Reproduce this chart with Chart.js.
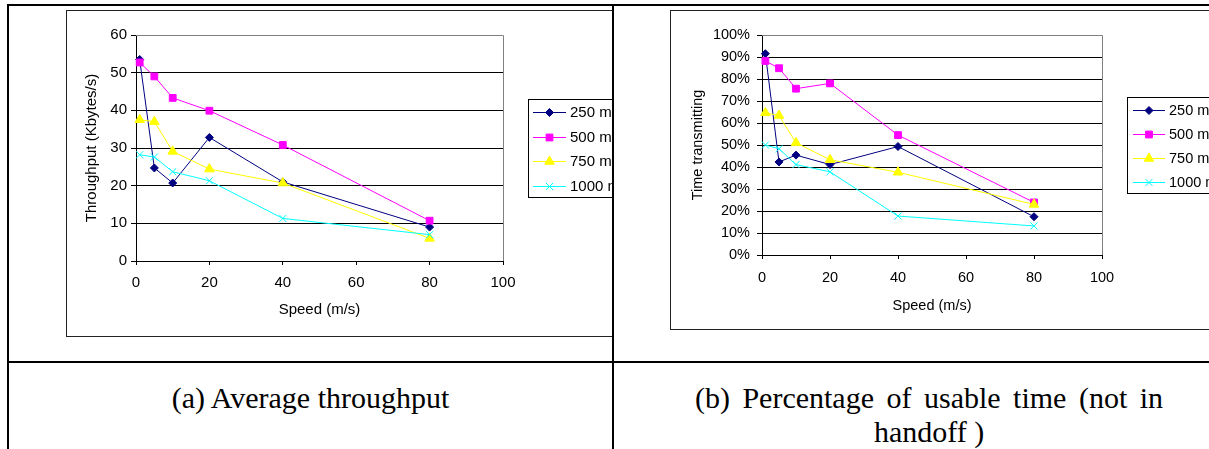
<!DOCTYPE html>
<html><head><meta charset="utf-8">
<script src="https://cdn.jsdelivr.net/npm/chart.js@4.4.1/dist/chart.umd.min.js"></script>
<style>
html,body{margin:0;padding:0;background:#fff;width:1209px;height:449px;overflow:hidden;position:relative;}
.ln{position:absolute;background:#000;}
.cell{position:absolute;overflow:hidden;}
.frame{position:absolute;border:1px solid #222;box-sizing:border-box;background:#fff;}
.frame canvas{position:absolute;left:0;top:0;}
.cap{position:absolute;font-family:"Liberation Serif","Times New Roman",serif;font-size:30px;line-height:34px;text-align:center;color:#000;white-space:nowrap;}
</style></head><body>
<div class="cell" style="left:9px;top:6px;width:603px;height:355px;">
  <div class="frame" style="left:57px;top:4px;width:620px;height:327px;"><canvas id="ca" width="618" height="325"></canvas></div>
</div>
<div class="cell" style="left:614px;top:6px;width:595px;height:355px;">
  <div class="frame" style="left:56px;top:4px;width:600px;height:320px;"><canvas id="cb" width="598" height="318"></canvas></div>
</div>
<div class="ln" style="left:7px;top:4px;width:1202px;height:2px;"></div>
<div class="ln" style="left:7px;top:4px;width:2px;height:445px;"></div>
<div class="ln" style="left:612px;top:4px;width:2px;height:445px;"></div>
<div class="ln" style="left:7px;top:361px;width:1202px;height:2px;"></div>
<div class="cap" style="left:9px;top:381px;width:603px;">(a) Average throughput</div>
<div class="cap" style="left:614px;top:381px;width:630px;"><span style="word-spacing:5px;">(b) Percentage of usable time (not in</span><br>handoff )</div>
<script>
// ---- data ----
const speeds = [1, 5, 10, 20, 40, 80];
const seriesNames = ['250 m', '500 m', '750 m', '1000 m'];
const xTickValues = [0, 20, 40, 60, 80, 100];
// (a) Average throughput (Kbytes/s)
const thr250 = [53.5, 24.7, 20.7, 32.8, 21.0, 9.0];
const thr500 = [52.7, 49.0, 43.3, 39.9, 30.8, 10.7];
const thr750 = [37.5, 37.0, 29.1, 24.4, 20.7, 6.0];
const thr1000 = [28.2, 27.6, 23.7, 21.3, 11.3, 7.0];
const thrTicks = [0, 10, 20, 30, 40, 50, 60];
// (b) Percentage of usable time (%)
const pct250 = [91.5, 42.3, 45.4, 41.1, 49.3, 17.4];
const pct500 = [88.2, 84.9, 75.6, 78.0, 54.5, 23.9];
const pct750 = [64.6, 63.4, 51.0, 43.3, 37.6, 23.0];
const pct1000 = [50.0, 48.3, 41.1, 37.8, 17.7, 13.2];
const pctTicks = [0, 10, 20, 30, 40, 50, 60, 70, 80, 90, 100];

// ---- styles ----
const styles = [
  {color: '#000080', pointStyle: 'rectRot', radius: 4},
  {color: '#FF00FF', pointStyle: 'rect', radius: 4.8},
  {color: '#FFFF00', pointStyle: 'triangle', radius: 5.5},
  {color: '#00FFFF', pointStyle: 'crossRot', radius: 5}
];
const FAMILY = '"Liberation Sans", Arial, sans-serif';
Chart.defaults.font.family = FAMILY;
Chart.defaults.color = '#000';

function drawMarker(ctx, style, r, x, y) {
  ctx.beginPath();
  if (style === 'rectRot') {
    ctx.moveTo(x, y - r); ctx.lineTo(x + r, y); ctx.lineTo(x, y + r); ctx.lineTo(x - r, y); ctx.closePath();
    ctx.fill(); ctx.stroke();
  } else if (style === 'rect') {
    const s = Math.SQRT1_2 * r;
    ctx.rect(x - s, y - s, 2 * s, 2 * s); ctx.fill(); ctx.stroke();
  } else if (style === 'triangle') {
    for (let k = 0; k < 3; k++) {
      const a = k * 2 * Math.PI / 3;
      const px = x + Math.sin(a) * r, py = y - Math.cos(a) * r;
      if (k === 0) ctx.moveTo(px, py); else ctx.lineTo(px, py);
    }
    ctx.closePath(); ctx.fill(); ctx.stroke();
  } else {
    const d = Math.SQRT1_2 * r;
    ctx.moveTo(x - d, y - d); ctx.lineTo(x + d, y + d);
    ctx.moveTo(x + d, y - d); ctx.lineTo(x - d, y + d); ctx.stroke();
  }
}

const boxLegend = {
  id: 'boxLegend',
  afterDraw(chart, args, o) {
    const ctx = chart.ctx;
    ctx.save();
    ctx.fillStyle = '#fff';
    ctx.fillRect(o.x, o.y, o.w, o.h);
    ctx.strokeStyle = '#000'; ctx.lineWidth = 1;
    ctx.strokeRect(o.x + 0.5, o.y + 0.5, o.w, o.h);
    ctx.font = o.fontSize + 'px ' + FAMILY;
    ctx.textBaseline = 'middle'; ctx.textAlign = 'left';
    chart.data.datasets.forEach((ds, i) => {
      const cy = Math.round(o.y + o.first + i * o.step) + 0.5;
      ctx.strokeStyle = ds.borderColor; ctx.fillStyle = ds.borderColor; ctx.lineWidth = 1;
      ctx.beginPath(); ctx.moveTo(o.x + o.l0, cy); ctx.lineTo(o.x + o.l1, cy); ctx.stroke();
      drawMarker(ctx, ds.pointStyle, ds.pointRadius, o.x + (o.l0 + o.l1) / 2, cy);
      ctx.fillStyle = '#000';
      ctx.fillText(ds.label, o.x + o.tx, cy);
    });
    ctx.restore();
  }
};

const plotBorder = {
  id: 'plotBorder',
  beforeDatasetsDraw(chart) {
    const {ctx, chartArea: a} = chart;
    ctx.save();
    ctx.strokeStyle = '#808080'; ctx.lineWidth = 1;
    ctx.beginPath();
    const x = Math.round(a.right) + 0.5;
    ctx.moveTo(a.left, Math.round(a.top) + 0.5); ctx.lineTo(x, Math.round(a.top) + 0.5);
    ctx.lineTo(x, Math.round(a.bottom));
    ctx.stroke();
    ctx.restore();
  }
};

function makeChart(id, values, yTicks, yTitle, yFmt, g) {
  const yMax = yTicks[yTicks.length - 1];
  const canvas = document.getElementById(id);
  const W = canvas.width, H = canvas.height;
  const datasets = values.map((v, i) => ({
    label: seriesNames[i],
    data: speeds.map((s, j) => ({x: s, y: v[j]})),
    borderColor: styles[i].color,
    backgroundColor: styles[i].color,
    pointBackgroundColor: styles[i].color,
    pointBorderColor: styles[i].color,
    pointStyle: styles[i].pointStyle,
    pointRadius: styles[i].radius,
    pointHoverRadius: styles[i].radius,
    pointBorderWidth: 1,
    borderWidth: 1,
    tension: 0,
    fill: false,
    clip: false,
    order: values.length - i
  }));
  return new Chart(canvas, {
    type: 'line',
    data: {datasets},
    options: {
      responsive: false, animation: false, devicePixelRatio: 1,
      layout: {padding: {left: 0, top: g.top, right: W - g.right, bottom: 0}},
      plugins: {
        legend: {display: false}, tooltip: {enabled: false},
        boxLegend: g.legend
      },
      scales: {
        x: {
          type: 'linear', min: 0, max: 100,
          afterBuildTicks(s) { s.ticks = xTickValues.map(v => ({value: v})); },
          ticks: {padding: g.xTickPad, font: {size: g.fs}, color: '#000', maxRotation: 0, autoSkip: false},
          grid: {drawOnChartArea: false, drawTicks: true, tickLength: 4, tickColor: '#000', color: '#000'},
          border: {display: true, color: '#000', width: 1},
          title: {display: true, text: 'Speed (m/s)', font: {size: g.fs}, color: '#000', padding: {top: 0, bottom: g.xTitlePad}},
          afterFit(s) { s.height = H - g.bottom; }
        },
        y: {
          type: 'linear', min: 0, max: yMax,
          afterBuildTicks(s) { s.ticks = yTicks.map(v => ({value: v})); },
          ticks: {padding: g.yTickPad, font: {size: g.fs}, color: '#000', callback: yFmt},
          grid: {color: c => (c.tick && c.tick.value === yMax) ? '#808080' : '#000', drawTicks: true, tickLength: 5, tickColor: '#000'},
          border: {display: true, color: '#000', width: 1},
          title: {display: true, text: yTitle, font: {size: g.fs}, color: '#000', padding: {top: g.yTitlePad, bottom: 0}},
          afterFit(s) { s.width = g.left; }
        }
      }
    },
    plugins: [plotBorder, boxLegend]
  });
}

makeChart('ca', [thr250, thr500, thr750, thr1000], thrTicks, 'Throughput (Kbytes/s)', v => String(v), {
  fs: 15, left: 69, right: 436, top: 24, bottom: 250,
  xTickPad: 9, xTitlePad: 17, yTickPad: 4, yTitlePad: 16,
  legend: {x: 461, y: 88, w: 200, h: 98, first: 13, step: 24.5, l0: 5, l1: 38, tx: 42, fontSize: 15}
});
makeChart('cb', [pct250, pct500, pct750, pct1000], pctTicks, 'Time transmitting', v => v + '%', {
  fs: 14.5, left: 91, right: 431, top: 24, bottom: 244,
  xTickPad: 10, xTitlePad: 14, yTickPad: 7, yTitlePad: 18,
  legend: {x: 456, y: 86, w: 200, h: 96, first: 13, step: 24, l0: 6, l1: 38, tx: 42, fontSize: 14.5}
});
</script>
</body></html>
